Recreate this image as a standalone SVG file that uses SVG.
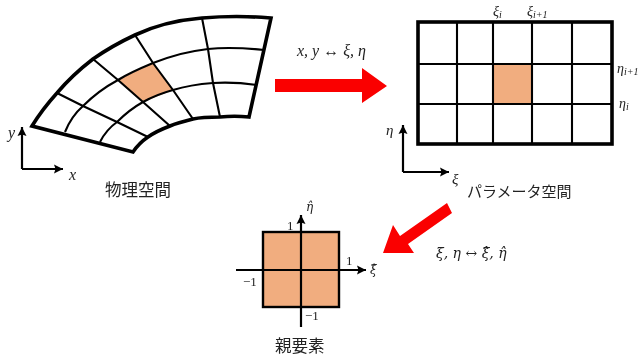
<svg xmlns="http://www.w3.org/2000/svg" width="639" height="363" viewBox="0 0 639 363">
<defs>
<filter id="soft" x="-5%" y="-5%" width="110%" height="110%"><feGaussianBlur stdDeviation="0.45"/></filter>
<marker id="ah" markerUnits="userSpaceOnUse" markerWidth="10" markerHeight="10" refX="9" refY="5" orient="auto"><path d="M0,0.5 L9,5 L0,9.5 L1.5,5 Z" fill="#000"/></marker>
</defs>
<style>
.thick{fill:none;stroke:#000;stroke-width:3.6;stroke-linejoin:miter}
.thin{fill:none;stroke:#000;stroke-width:2.1}
.axis{fill:none;stroke:#000;stroke-width:2.2;marker-end:url(#ah)}
.cell{fill:#f1ad7f}
.red{fill:#fa0505}
.m{font-family:"Liberation Serif",serif;font-style:italic;fill:#222}
.h{font-family:"DejaVu Serif",serif;font-style:italic;fill:#222}
.n{font-family:"Liberation Serif",serif;fill:#222}
.jp{font-family:"Noto Sans CJK JP",sans-serif;fill:#222}
</style>
<rect width="639" height="363" fill="#fff"/>
<g filter="url(#soft)">
<g id="physical-space">
<path class="cell" d="M118,80 L153,63 L173,90 L143,102 Z"/>
<path class="thin" d="M57,93 L83,106 L117,122 L148,137"/>
<path class="thin" d="M93,59 L118,80 L143,102 L170,126"/>
<path class="thin" d="M135,35 L153,63 L173,90 L193,119"/>
<path class="thin" d="M202,18 L208,49 L213,83 L220,117"/>
<path class="thin" d="M65,132 C69,122 75,113 83,106 C93,96 105,87 118,80 C129,73 141,68 153,63 C171,56 189,51 208,49 C226,47 245,48 264,50"/>
<path class="thin" d="M100,142 C104,134 110,127 117,122 C125,114 134,107 143,102 C152,97 162,93 173,90 C186,86 200,84 213,83 C228,82 243,83 257,85"/>
<path class="thick" d="M32,126 C40,113 48,103 57,93 C68,80 80,69 93,59 C106,50 120,42 135,35 C156,25 178,20 202,18 C225,16 248,16 271,18 L249,117 C239,116 230,116 220,117 C211,117 202,117 193,119 C185,121 177,123 170,126 C162,129 155,132 148,137 C142,141 137,146 133,152 Z"/>
<path class="axis" d="M22,169 L22,127"/>
<path class="axis" d="M22,169 L63,169"/>
<text class="m" x="8" y="138" font-size="16">y</text>
<text class="m" x="69" y="180" font-size="16">x</text>
<text class="jp" x="105" y="196" font-size="16.5">物理空間</text>
</g>
<g id="parameter-space">
<rect class="cell" x="493" y="64" width="39" height="40"/>
<path class="thin" d="M457,22 V144 M493,22 V144 M532,22 V144 M572,22 V144 M418,64 H612 M418,104 H612"/>
<rect class="thick" x="418" y="22" width="194" height="122"/>
<path class="axis" d="M403,172 L403,125"/>
<path class="axis" d="M403,172 L449,172"/>
<text class="m" x="386" y="135" font-size="15">η</text>
<text class="m" x="452" y="184" font-size="15">ξ</text>
<text class="m" x="493" y="16" font-size="14">ξ<tspan font-size="10" dy="2">i</tspan></text>
<text class="m" x="527" y="16" font-size="14">ξ<tspan font-size="10" dy="2">i+1</tspan></text>
<text class="m" x="617" y="73" font-size="14">η<tspan font-size="10" dy="2">i+1</tspan></text>
<text class="m" x="619" y="108" font-size="14">η<tspan font-size="10" dy="2">i</tspan></text>
<text class="jp" x="467" y="197" font-size="15">パラメータ空間</text>
</g>
<g id="parent-element">
<rect class="cell" x="263" y="232" width="76" height="75"/>
<rect x="263" y="232" width="76" height="75" fill="none" stroke="#000" stroke-width="2.4"/>
<path class="axis" d="M236,270 L366,270"/>
<path class="axis" d="M301,327 L301,215"/>
<text class="h" x="306" y="211" font-size="12">η̂</text>
<text class="h" x="370" y="274" font-size="12">ξ̂</text>
<text class="n" x="287" y="230" font-size="13">1</text>
<text class="n" x="346" y="265" font-size="13">1</text>
<text class="n" x="243" y="286" font-size="13">−1</text>
<text class="n" x="305" y="320" font-size="13">−1</text>
<text class="jp" x="275" y="352" font-size="16.5">親要素</text>
</g>
<g id="connectors">
<path class="red" d="M275,79 H362 V68 L387,86 L362,103 V92 H275 Z"/>
<path class="red" d="M447,203 L452,213 L408,244 L414,253 L383,253 L393,225 L400,236 Z"/>
<text class="m" x="297" y="56" font-size="16">x, y ↔ ξ, η</text>
<text class="h" x="436" y="258" font-size="14">ξ, η ↔ ξ̂, η̂</text>
</g>
</g>
</svg>
